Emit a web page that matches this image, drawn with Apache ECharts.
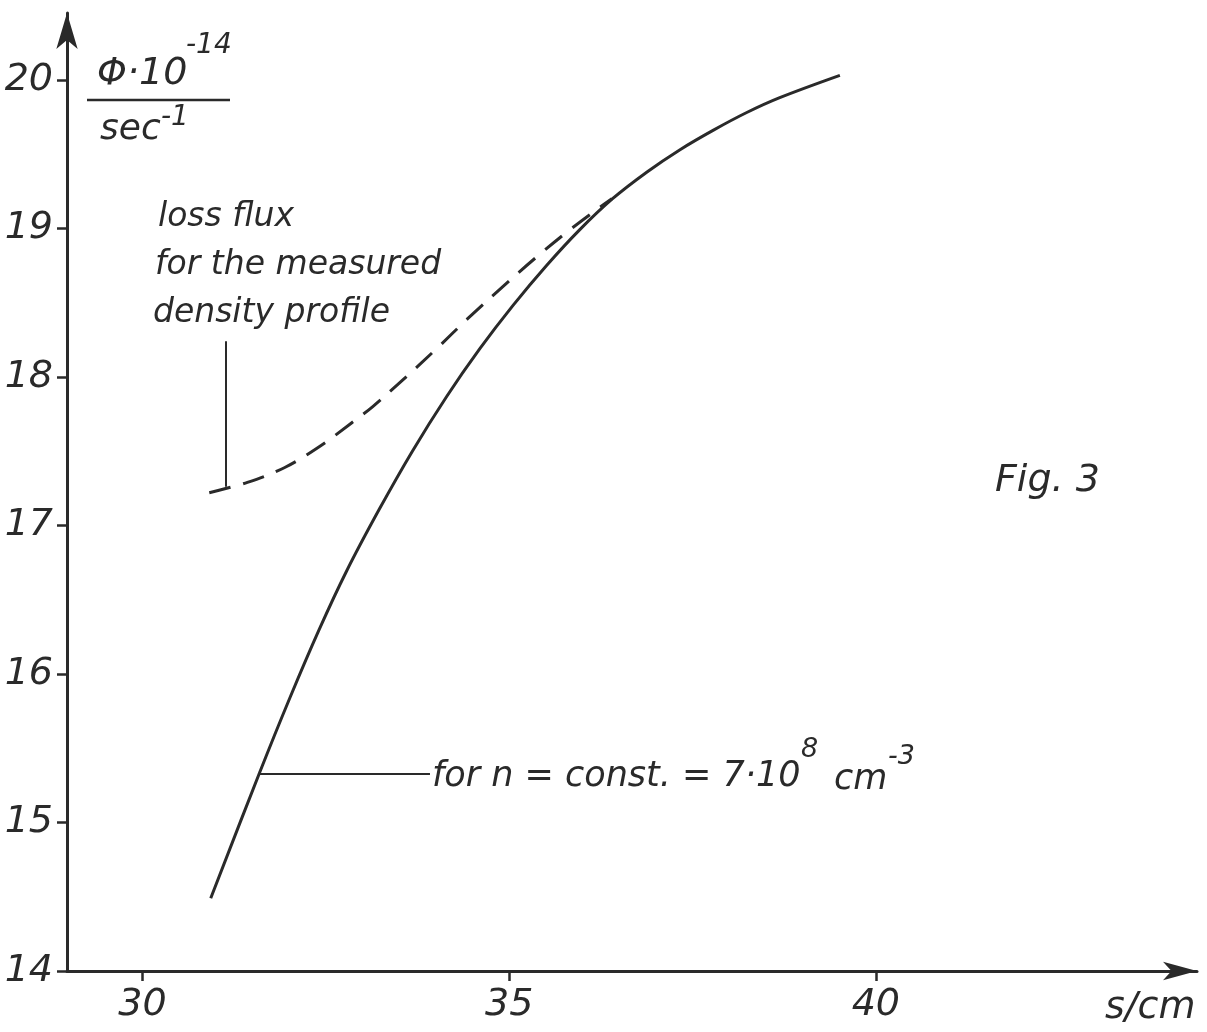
<!DOCTYPE html>
<html>
<head>
<meta charset="utf-8">
<title>Fig. 3</title>
<script src="https://cdn.jsdelivr.net/npm/echarts@6/dist/echarts.min.js"></script>
<style>
  html, body { margin: 0; padding: 0; background: #fff; }
  #chart { width: 1207px; height: 1032px; }
</style>
</head>
<body>
<div id="chart"></div>
<script>
(function () {
    "use strict";

    /*---- data ----*/
    // n = const. = 7e8 cm^-3 (solid)
    var constS    = [30.93, 31.60, 32.01, 32.41, 32.78, 33.23, 33.68, 34.15, 34.60, 35.05, 35.51, 35.96, 36.41, 36.88, 37.33, 37.78, 38.24, 38.69, 39.51];
    var constFlux = [14.49, 15.34, 15.84, 16.30, 16.69, 17.11, 17.50, 17.87, 18.19, 18.48, 18.75, 18.99, 19.20, 19.38, 19.53, 19.66, 19.78, 19.88, 20.03];
    // measured density profile (dashed)
    var measS     = [30.91, 31.43, 31.94, 32.44, 32.85, 33.14, 33.55, 34.01, 34.43, 34.94, 35.38, 35.80, 36.23, 36.40];
    var measFlux  = [17.22, 17.29, 17.39, 17.54, 17.69, 17.80, 17.98, 18.19, 18.39, 18.62, 18.81, 18.98, 19.14, 19.20];

    var xTicks = [30, 35, 40];
    var yTicks = [14, 15, 16, 17, 18, 19, 20];

    var ink = '#2a2a2a';
    var font = 'DejaVu Sans';

    function pairs(xs, ys) {
        var out = [];
        for (var i = 0; i < xs.length; i++) out.push([xs[i], ys[i]]);
        return out;
    }

    function txt(text, x, y, size) {
        return {
            type: 'text', x: x, y: y, silent: true,
            style: {
                text: text, fill: ink,
                font: 'italic ' + size + 'px "' + font + '"',
                textVerticalAlign: 'middle'
            }
        };
    }

    var chart = echarts.init(document.getElementById('chart'), null, { renderer: 'canvas' });

    var option = {
        backgroundColor: '#fff',
        animation: false,
        grid: { left: 67, right: 10, top: 13, bottom: 61 },
        xAxis: {
            type: 'value',
            min: 28.97, max: 44.38,
            splitLine: { show: false },
            axisLine: {
                onZero: false,
                lineStyle: { color: ink, width: 3 },
                symbol: ['none', 'arrow'],
                symbolSize: [14, 34]
            },
            axisTick: { customValues: xTicks, length: 10, lineStyle: { color: ink, width: 2.5 } },
            axisLabel: {
                customValues: xTicks, margin: 15, color: ink,
                fontFamily: font, fontStyle: 'italic', fontSize: 38
            }
        },
        yAxis: {
            type: 'value',
            min: 14, max: 20.45,
            splitLine: { show: false },
            axisLine: {
                onZero: false,
                lineStyle: { color: ink, width: 3 },
                symbol: ['none', 'arrow'],
                symbolSize: [16, 36]
            },
            axisTick: { customValues: yTicks, length: 10, lineStyle: { color: ink, width: 2.5 } },
            axisLabel: {
                customValues: yTicks, margin: 14, color: ink,
                fontFamily: font, fontStyle: 'italic', fontSize: 38
            }
        },
        series: [{
            name: 'n = const.',
            type: 'line',
            smooth: 0.35,
            showSymbol: false,
            silent: true,
            data: pairs(constS, constFlux),
            lineStyle: { color: ink, width: 3 },
            markLine: {
                silent: true, symbol: 'none', label: { show: false },
                lineStyle: { color: ink, width: 2, type: 'solid' },
                data: [[{ coord: [31.60, 15.33] }, { coord: [33.92, 15.33] }]]
            }
        }, {
            name: 'measured profile',
            type: 'line',
            smooth: 0.35,
            showSymbol: false,
            silent: true,
            data: pairs(measS, measFlux),
            lineStyle: { color: ink, width: 3, type: [22, 13] },
            markLine: {
                silent: true, symbol: 'none', label: { show: false },
                lineStyle: { color: ink, width: 2, type: 'solid' },
                data: [[{ coord: [31.14, 18.24] }, { coord: [31.14, 17.26] }]]
            }
        }],
        graphic: [
            // y axis title, written as a fraction
            txt('\u03A6\u00B710', 97, 74, 38),
            txt('-14', 186, 46, 28),
            { type: 'line', silent: true, shape: { x1: 87, y1: 100, x2: 230, y2: 100 },
              style: { stroke: ink, lineWidth: 2.5 } },
            txt('sec', 100, 130, 36),
            txt('-1', 161, 118, 28),
            // annotations
            txt('loss flux', 158, 217, 33),
            txt('for the measured', 155, 265, 33),
            txt('density profile', 153, 313, 33),
            txt('for n = const. = 7\u00B710', 432, 777, 35),
            txt('8', 801, 750, 27),
            txt('cm', 834, 780, 35),
            txt('-3', 888, 757, 27),
            txt('Fig. 3', 995, 481, 38),
            txt('s/cm', 1105, 1008, 38)
        ]
    };
    chart.setOption(option);
})();
</script>
</body>
</html>
